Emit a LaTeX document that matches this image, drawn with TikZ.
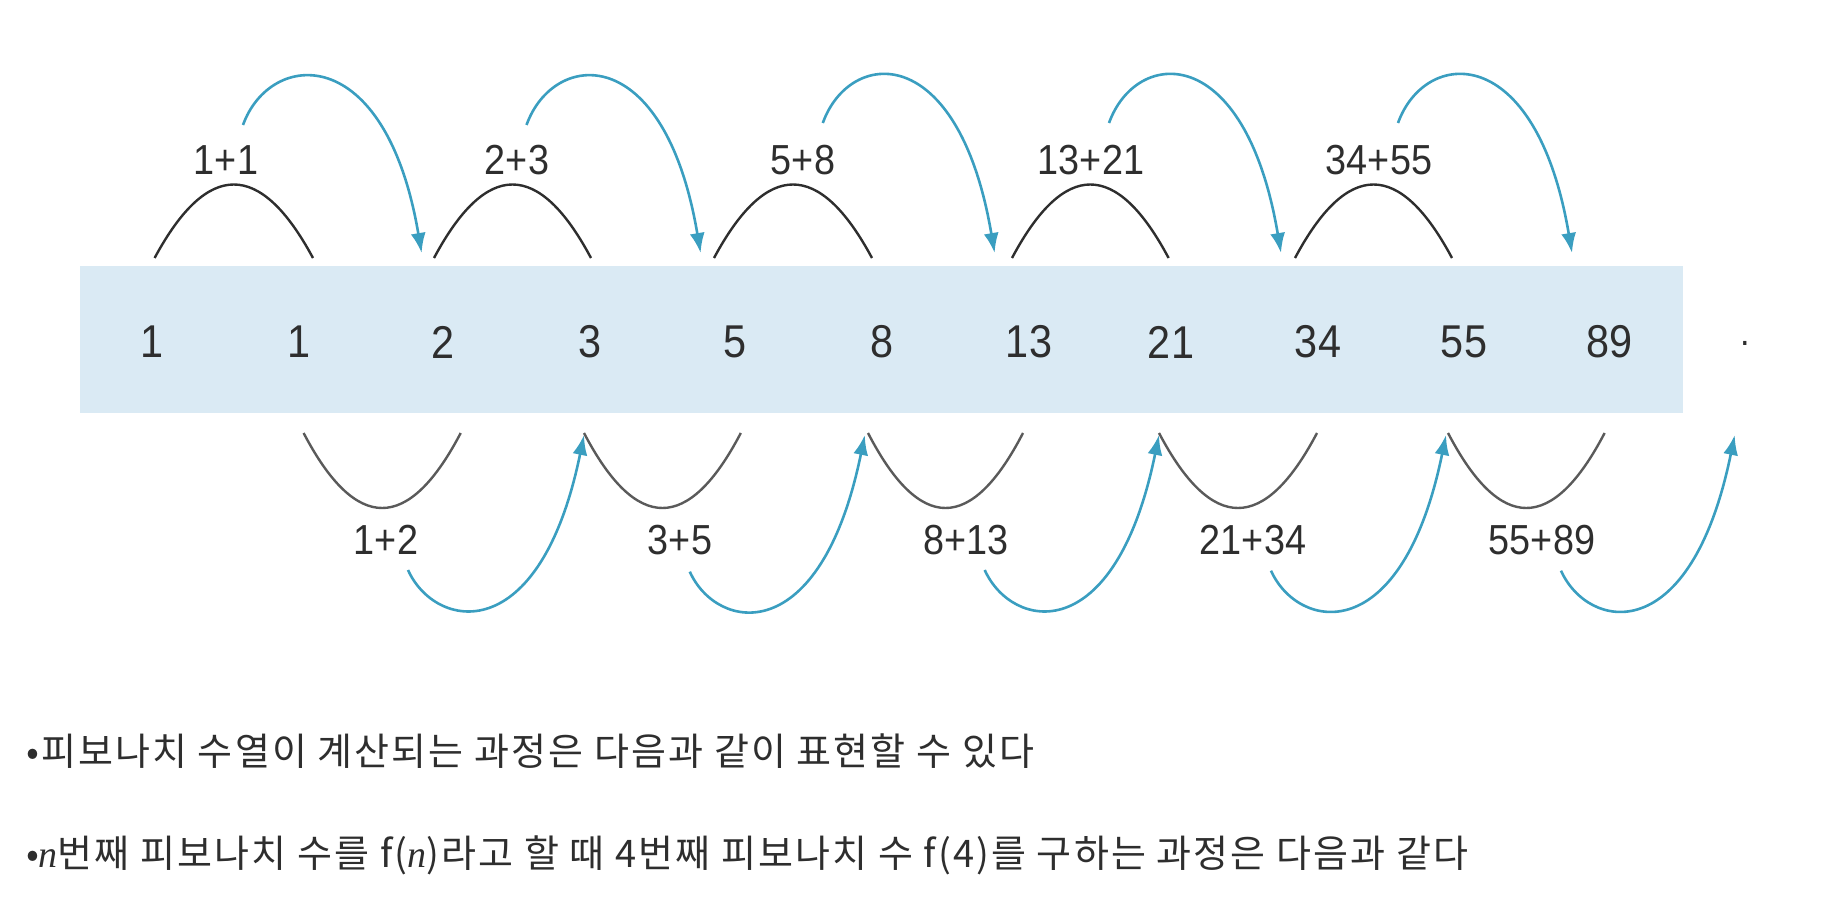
\documentclass[tikz,border=0pt]{standalone}
\usepackage{fontspec}
\setmainfont{Liberation Sans}[FakeStretch=0.9]
\newfontfamily\kr{Noto Sans CJK KR}[LetterSpace=5.6]
\newfontfamily\tnr{Liberation Serif}
\usetikzlibrary{arrows.meta,calc}
\definecolor{bandblue}{HTML}{DAEAF4}
\definecolor{arrowblue}{HTML}{3A9EC0}
\definecolor{inkgray}{HTML}{2E2E2E}
\definecolor{valleygray}{HTML}{5A5A5A}
\begin{document}
\begin{tikzpicture}[x=1pt,y=-1pt,
  num/.style={font=\fontsize{46}{50}\selectfont, text=inkgray, inner sep=0pt},
  sumlabel/.style={font=\fontsize{42}{46}\selectfont, text=inkgray, inner sep=0pt},
  hill/.style={draw=inkgray, line width=2.4pt},
  valley/.style={draw=valleygray, line width=2.4pt},
  jump/.style={draw=arrowblue, line width=2.6pt, -{Latex[length=20pt,width=15pt]}},
  note/.style={font=\kr\fontsize{38}{42}\selectfont, text=inkgray, anchor=west, inner sep=0pt},
  band/.style={fill=bandblue, inner sep=0pt, minimum width=1603pt, minimum height=147pt}]
\useasboundingbox (0,0) rectangle (1838,904);
\node[band] (band) at (881.5,339.5) {};
% numbers
\foreach \v/\x [count=\i from 0] in {1/152.4,1/298.9,2/443.1,3/589.6,5/735,8/881.5,13/1029,21/1171,34/1318,55/1464,89/1609.5}
  \node[num] (n\i) at (\x,342) {\v};
\node[font=\fontsize{38}{38}\selectfont, inner sep=0pt, anchor=base, text=inkgray] (dots) at (1745,345) {.};
% hills and top labels
\foreach \l/\r/\lx/\t [count=\k] in {154.6/313/226/1+1, 434/591/517/2+3, 714/872/803/5+8, 1012/1168.6/1091/13+21, 1295/1452/1379/34+55}{
  \coordinate (hl\k) at (\l,258);
  \coordinate (hr\k) at (\r,258);
  \draw[hill] (hl\k) .. controls ({\l+(\r-\l)/3},160) and ({\r-(\r-\l)/3},160) .. (hr\k);
  \node[sumlabel] (t\k) at (\lx,160) {\t};
}
% valleys and bottom labels
\foreach \l/\r/\lx/\t [count=\k] in {303.6/460.7/386/1+2, 584/740.8/680/3+5, 868/1023/966/8+13, 1159/1317/1253/21+34, 1448/1604.6/1542/55+89}{
  \coordinate (vl\k) at (\l,433);
  \coordinate (vr\k) at (\r,433);
  \draw[valley] (vl\k) .. controls ({\l+(\r-\l)/3},533) and ({\r-(\r-\l)/3},533) .. (vr\k);
  \node[sumlabel] (b\k) at (\lx,540) {\t};
}
% top blue jumps
\foreach \sx/\sy/\ex [count=\k] in {243/125/421.6, 526.5/125/700.6, 822.8/123/994.6, 1109/123/1281, 1398/123/1572}{
  \coordinate (ts\k) at (\sx,\sy);
  \coordinate (te\k) at (\ex,253);
  \draw[jump] (ts\k) .. controls ($(ts\k)+(27,-75)$) and ($(te\k)+(-36,-213)$) .. (te\k);
}
% bottom blue jumps
\foreach \sx/\sy/\ex [count=\k] in {408/570/584, 689.8/571.7/864.8, 984.7/570/1159, 1271/570.7/1446, 1561/570.7/1734.7}{
  \coordinate (bs\k) at (\sx,\sy);
  \coordinate (be\k) at (\ex,435);
  \draw[jump] (bs\k) .. controls ($(bs\k)+(27,60)$) and ($(be\k)+(-44,215)$) .. (be\k);
}
% notes
\node[note] (line1) at (25.8,751) {•피보나치 수열이 계산되는 과정은 다음과 같이 표현할 수 있다};
\node[note] (line2) at (25.8,855) {•{\tnr\itshape n}번째 피보나치 수를 f({\tnr\itshape n})라고 할 때 4번째 피보나치 수 f(4)를 구하는 과정은 다음과 같다};
\end{tikzpicture}
\end{document}
